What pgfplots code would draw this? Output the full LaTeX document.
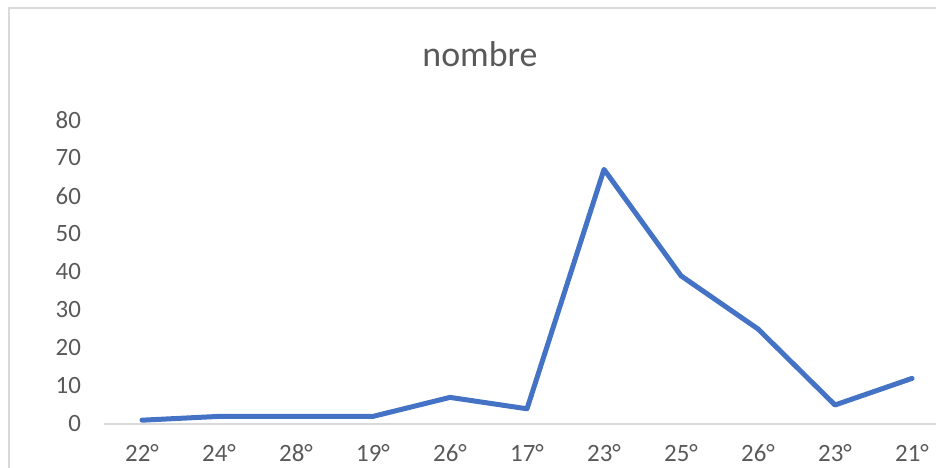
\documentclass[border=0pt]{standalone}
\usepackage{fontspec}
\setmainfont{Carlito}
\usepackage{pgfplots}
\pgfplotsset{compat=1.18}
\definecolor{txtgray}{HTML}{595959}
\definecolor{linegray}{HTML}{D9D9D9}
\definecolor{excelblue}{HTML}{4472C4}
\begin{document}
\begin{tikzpicture}[x=1bp,y=1bp]
\path[use as bounding box] (0,0) rectangle (936,468);
\draw[linegray, line width=1.5bp] (9,-20) -- (9,460) -- (960,460);
\node[text=txtgray, font=\fontsize{36}{40}\selectfont] at (480,414) {nombre};
\begin{axis}[
  at={(142bp,44bp)}, anchor=origin,
  scale only axis,
  width=847bp, height=304bp,
  xmin=-0.5, xmax=10.5, ymin=0, ymax=80,
  axis x line*=bottom, axis y line*=left,
  x axis line style={linegray, line width=1.2bp},
  y axis line style={draw=none},
  xtick={0,...,10},
  xticklabels={22°,24°,28°,19°,26°,17°,23°,25°,26°,23°,21°},
  ytick={0,10,...,80},
  major tick length=0pt,
  tick style={draw=none},
  ticklabel style={text=txtgray, font=\fontsize{25}{28}\selectfont},
  xticklabel style={yshift=-17bp},
  yticklabel style={xshift=-19bp},
  /pgf/number format/assume math mode=true,
  clip=false,
]
\addplot[excelblue, line width=5bp, line join=round, line cap=round] coordinates {
(0,1) (1,2) (2,2) (3,2) (4,7) (5,4) (6,67) (7,39) (8,25) (9,5) (10,12)
};
\end{axis}
\end{tikzpicture}
\end{document}
